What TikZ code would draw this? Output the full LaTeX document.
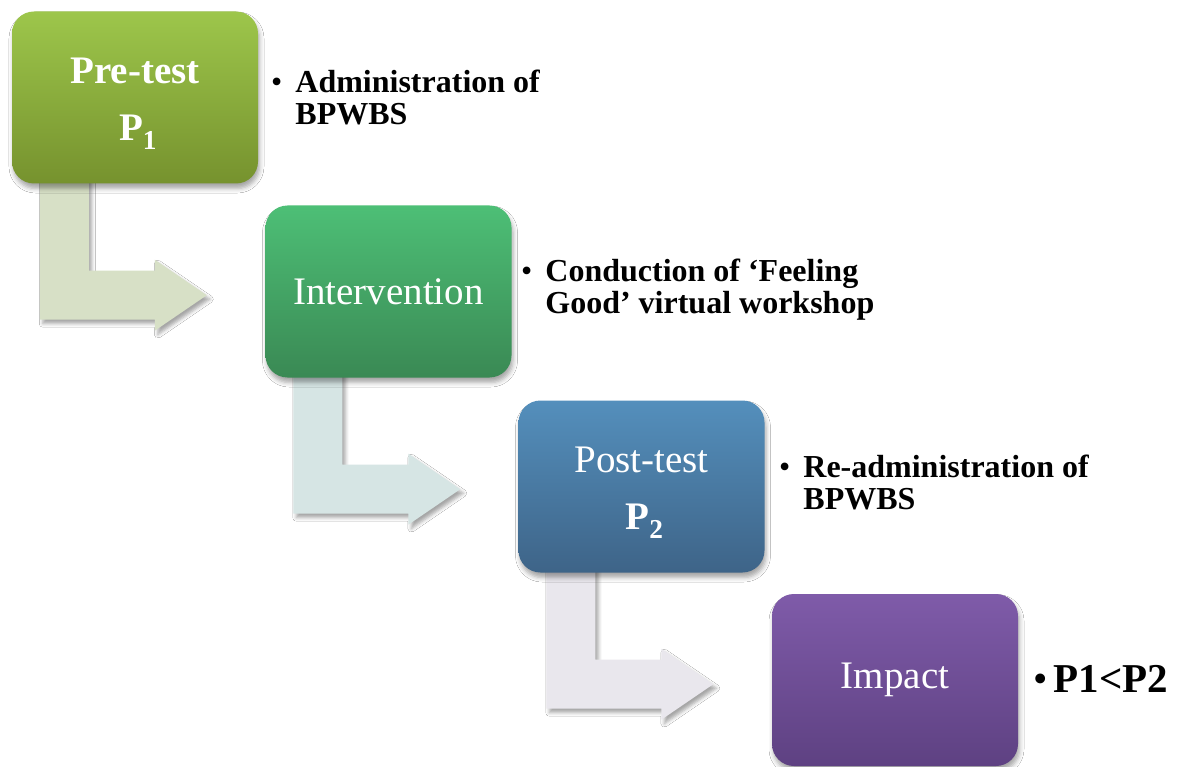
\documentclass[tikz,border=0pt]{standalone}
\usepackage{fontspec}
\setmainfont{Liberation Serif}
\usetikzlibrary{calc,shadows.blur,backgrounds}

% stage colours (top / bottom of the gradient)
\definecolor{preTop}{HTML}{9DC64B}
\definecolor{preBot}{HTML}{76922E}
\definecolor{intTop}{HTML}{4DBF76}
\definecolor{intBot}{HTML}{3A8954}
\definecolor{postTop}{HTML}{548FBC}
\definecolor{postBot}{HTML}{3E6488}
\definecolor{impTop}{HTML}{7F5BA9}
\definecolor{impBot}{HTML}{5E4182}
% bent connector colours
\definecolor{flowA}{HTML}{D7E0C6}
\definecolor{flowB}{HTML}{D6E5E4}
\definecolor{flowC}{HTML}{E9E7ED}

\tikzset{
  stage/.style={minimum width=246pt, minimum height=172pt, rounded corners=22pt,
    inner sep=0pt, text=white, align=center,
    font=\fontsize{39}{57}\selectfont,
    blur shadow={shadow xshift=1.5pt, shadow yshift=-5pt, shadow blur radius=4.5pt, shadow opacity=35}},
  note/.style={anchor=base west, inner sep=0pt, font=\bfseries\fontsize{32}{32}\selectfont},
  flow/.style={blur shadow={shadow xshift=3pt, shadow yshift=-4pt, shadow blur radius=3.5pt, shadow opacity=35}},
}

% strut that lowers a two-line stage label a little
\newcommand{\stagestrut}{\rule{0pt}{38pt}}
% list bullet in normal weight
\newcommand{\notebullet}{\textmd{\textbullet}}

% bent arrow hanging below a stage box: #1 = box name, #2 = fill colour
\newcommand{\bentflow}[2]{%
  \begin{scope}[shift={(#1.south west)}]
    \fill[flow, fill=#2] (28,-10) -- (28,136) -- (143,136) -- (143,147) -- (195,111.5)
      -- (143,76) -- (143,87) -- (77,87) -- (77,-10) -- cycle;
  \end{scope}}

\begin{document}
\begin{tikzpicture}[x=1pt, y=-1pt]
  \useasboundingbox (0,0) rectangle (1178,767);

  % stage boxes
  \path
    node[stage, top color=preTop, bottom color=preBot] (b1) at (135,97.5)
      {\stagestrut\bfseries Pre-test\\\bfseries\hspace{6pt}P\textsubscript{1}}
    node[stage, top color=intTop, bottom color=intBot] (b2) at (388.5,291.5)
      {Intervention}
    node[stage, top color=postTop, bottom color=postBot] (b3) at (641.5,486.5)
      {\stagestrut Post-test\\\bfseries\hspace{6pt}P\textsubscript{2}}
    node[stage, top color=impTop, bottom color=impBot] (b4) at (895,680)
      {Impact};

  % connectors, drawn underneath the boxes
  \begin{scope}[on background layer]
    \fill[white] (0,0) rectangle (1178,767);
    \bentflow{b1}{flowA}
    \bentflow{b2}{flowB}
    \bentflow{b3}{flowC}
  \end{scope}

  % bullet notes
  \node[note] (n1) at (271,93)
    {\begin{tabular}[t]{@{}l@{\hspace{13pt}}l@{}}\notebullet & Administration of\\ & BPWBS\end{tabular}};
  \node[note] (n2) at (521,282)
    {\begin{tabular}[t]{@{}l@{\hspace{13pt}}l@{}}\notebullet & Conduction of ‘Feeling\\ & Good’ virtual workshop\end{tabular}};
  \node[note] (n3) at (779,477)
    {\begin{tabular}[t]{@{}l@{\hspace{13pt}}l@{}}\notebullet & Re-administration of\\ & BPWBS\end{tabular}};
  \node[note, font=\bfseries\fontsize{41}{41}\selectfont] (n4) at (1033,692)
    {\notebullet\hspace{6pt}P1<P2};
\end{tikzpicture}
\end{document}
